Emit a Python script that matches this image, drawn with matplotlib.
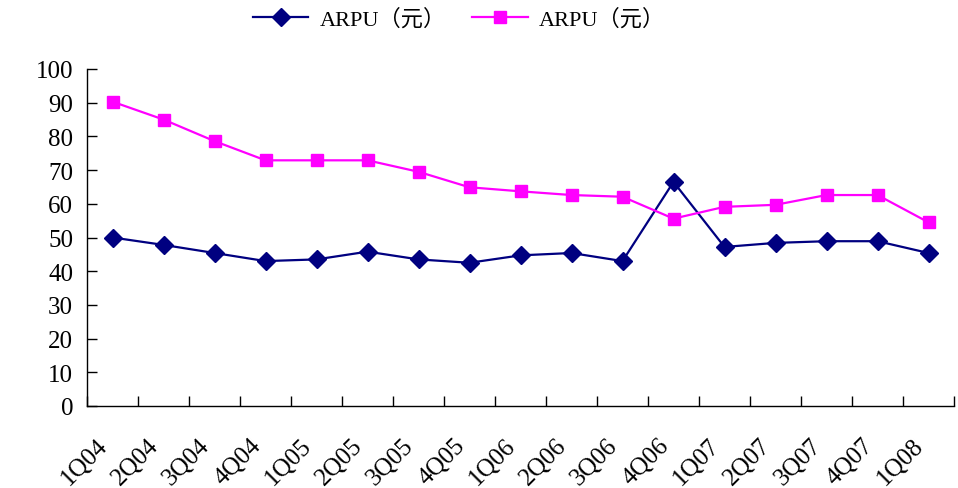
import matplotlib.pyplot as plt
from matplotlib.transforms import ScaledTranslation

# quarters and ARPU values
quarters = ['1Q04', '2Q04', '3Q04', '4Q04', '1Q05', '2Q05', '3Q05', '4Q05', '1Q06',
            '2Q06', '3Q06', '4Q06', '1Q07', '2Q07', '3Q07', '4Q07', '1Q08']
arpu_a = [50.0, 47.8, 45.4, 43.0, 43.5, 45.8, 43.5, 42.5, 44.7,
          45.4, 43.0, 66.5, 47.2, 48.4, 48.9, 48.9, 45.4]
arpu_b = [90.3, 85.0, 78.6, 72.9, 72.9, 72.9, 69.5, 64.9, 63.7,
          62.6, 62.1, 55.6, 59.1, 59.7, 62.6, 62.6, 54.5]
series_label = 'ARPU（元）'

plt.rcParams['font.family'] = ['Liberation Serif', 'Noto Sans CJK SC']

fig = plt.figure(figsize=(9.58, 4.89), dpi=100)
ax = fig.add_axes([87 / 958, 1 - 407 / 489, (954 - 87) / 958, (407 - 70) / 489])

x = list(range(len(quarters)))
ax.plot(x, arpu_a, color='#000080', marker='D', markersize=9, linewidth=1.6, label=series_label)
ax.plot(x, arpu_b, color='#FF00FF', marker='s', markersize=9, linewidth=1.6, label=series_label)

ax.set_xlim(-0.5, len(quarters) - 0.5)
ax.set_ylim(0, 100)
ax.set_yticks(range(0, 101, 10))

# labels at category centres, tick marks at category boundaries
ax.set_xticks(x)
ax.set_xticklabels(quarters, rotation=45, ha='right', va='top', rotation_mode='anchor')
ax.set_xticks([i - 0.5 for i in range(len(quarters) + 1)], minor=True)
ax.tick_params(axis='x', which='major', length=0, pad=14, labelsize=18)
ax.tick_params(axis='x', which='minor', direction='in', length=7, width=1)
ax.tick_params(axis='y', direction='in', length=7, width=1, labelsize=18, pad=10)

# nudge the rotated labels left/down like the original
shift = ScaledTranslation(-16 / 100, -8 / 100, fig.dpi_scale_trans)
for lbl in ax.get_xticklabels():
    lbl.set_transform(lbl.get_transform() + shift)

for side in ['top', 'right']:
    ax.spines[side].set_visible(False)
for side in ['left', 'bottom']:
    ax.spines[side].set_linewidth(1)

fig.legend(loc='center', bbox_to_anchor=(459 / 958, 1 - 20 / 489), ncol=2, frameon=False,
           fontsize=16, handlelength=2.5, columnspacing=1.2, handletextpad=0.5)

fig.savefig('out.png', dpi=100)
